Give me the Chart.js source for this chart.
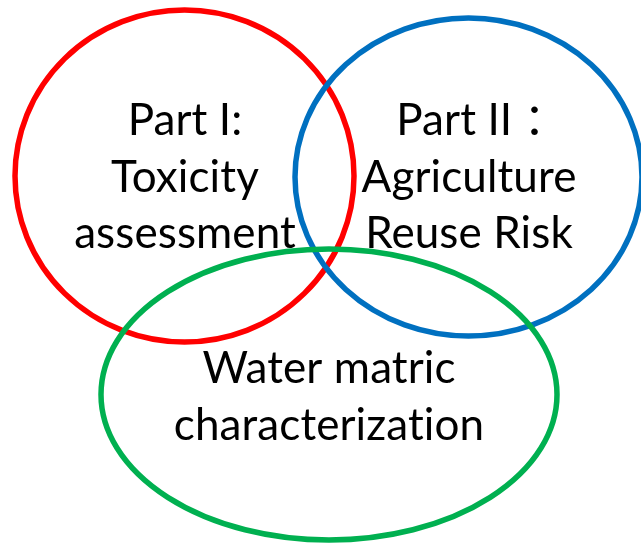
<!DOCTYPE html>
<html>
<head>
<meta charset="utf-8">
<script src="https://cdn.jsdelivr.net/npm/chart.js@4"></script>
<style>
html,body{margin:0;padding:0;background:#fff;}
#wrap{width:641px;height:545px;}
</style>
</head>
<body>
<div id="wrap"><canvas id="c" width="641" height="545"></canvas></div>
<script>
// Sets (ellipses) of the Venn diagram, in chart units (x: 0..641, y: 0..545 from top)
const setNames = ["Part I", "Part II", "Water"];
const centerX = [184.5, 468.5, 329];
const centerY = [176, 177, 394.5];
const radiusX = [169.5, 173.5, 228];
const radiusY = [166, 159, 145.5];
const setColors = ["#FF0000", "#0070C0", "#00B050"];

// Label lines per set and their anchors (center x per line, first baseline y, line step)
const labelLines = [
  ["Part I:", "Toxicity", "assessment"],
  ["Part II \uFF1A", "Agriculture", "Reuse Risk"],
  ["Water matric", "characterization"]
];
const labelX = [[185, 185, 185], [482, 469, 469], [329, 329]];
const labelY = [135, 135, 383];
const lineStep = 56.5;

const vennPlugin = {
  id: 'venn',
  afterDatasetsDraw(chart) {
    const ctx = chart.ctx;
    const xs = chart.scales.x, ys = chart.scales.y;
    ctx.save();
    // ellipses
    for (let i = 0; i < centerX.length; i++) {
      const cx = xs.getPixelForValue(centerX[i]);
      const cy = ys.getPixelForValue(centerY[i]);
      const rx = Math.abs(xs.getPixelForValue(centerX[i] + radiusX[i]) - cx);
      const ry = Math.abs(ys.getPixelForValue(centerY[i] + radiusY[i]) - cy);
      ctx.beginPath();
      ctx.ellipse(cx, cy, rx, ry, 0, 0, Math.PI * 2);
      ctx.lineWidth = 5.5;
      ctx.strokeStyle = setColors[i];
      ctx.stroke();
    }
    // labels
    ctx.fillStyle = '#000';
    ctx.textAlign = 'center';
    ctx.textBaseline = 'alphabetic';
    ctx.font = '44px Lato, "Noto Sans CJK SC", sans-serif';
    if ('letterSpacing' in ctx) ctx.letterSpacing = '0.1px';
    for (let i = 0; i < labelLines.length; i++) {
      labelLines[i].forEach((t, k) => {
        const x = xs.getPixelForValue(labelX[i][k]);
        const y = ys.getPixelForValue(labelY[i] + k * lineStep);
        ctx.fillText(t, x, y);
      });
    }
    ctx.restore();
  }
};

new Chart(document.getElementById('c'), {
  type: 'scatter',
  data: {
    datasets: [{
      label: 'centers',
      data: centerX.map((x, i) => ({x: x, y: centerY[i]})),
      pointRadius: 0,
      pointHoverRadius: 0
    }]
  },
  options: {
    responsive: false,
    animation: false,
    events: [],
    layout: {padding: 0},
    plugins: {legend: {display: false}, tooltip: {enabled: false}, title: {display: false}},
    scales: {
      x: {type: 'linear', min: 0, max: 641, display: false},
      y: {type: 'linear', min: 0, max: 545, reverse: true, display: false}
    }
  },
  plugins: [vennPlugin]
});
</script>
</body>
</html>
